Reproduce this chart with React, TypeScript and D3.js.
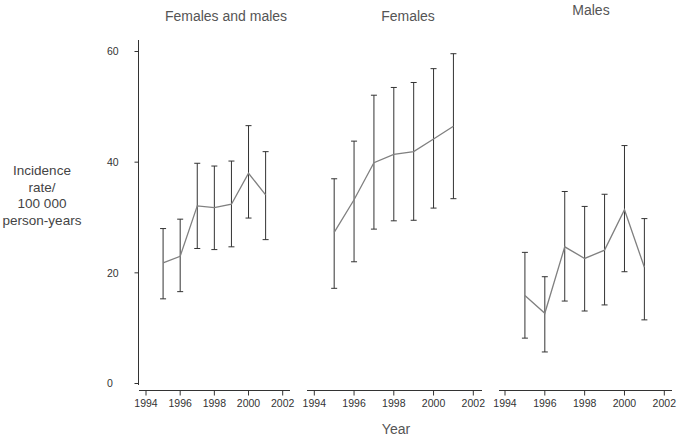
import React from "react";
import * as d3 from "d3";

const years = [1995, 1996, 1997, 1998, 1999, 2000, 2001];
const xTicks = [1994, 1996, 1998, 2000, 2002];
const yTicks = [0, 20, 40, 60];
const panelTitles = ["Females and males", "Females", "Males"];

const bothRate = [21.8, 23.0, 32.1, 31.8, 32.4, 38.0, 34.1];
const bothLow = [15.3, 16.6, 24.4, 24.2, 24.7, 29.9, 26.0];
const bothHigh = [28.0, 29.7, 39.8, 39.3, 40.2, 46.6, 41.9];

const femRate = [27.3, 33.2, 39.9, 41.4, 41.9, 44.2, 46.5];
const femLow = [17.2, 22.0, 27.9, 29.4, 29.5, 31.7, 33.4];
const femHigh = [37.0, 43.8, 52.1, 53.5, 54.4, 56.9, 59.6];

const maleRate = [15.9, 12.7, 24.7, 22.6, 24.1, 31.4, 21.0];
const maleLow = [8.2, 5.7, 14.9, 13.1, 14.2, 20.2, 11.5];
const maleHigh = [23.7, 19.3, 34.7, 32.0, 34.2, 43.0, 29.8];

const series = [
  { rate: bothRate, low: bothLow, high: bothHigh },
  { rate: femRate, low: femLow, high: femHigh },
  { rate: maleRate, low: maleLow, high: maleHigh },
];

const FONT = "'Liberation Sans', Arial, sans-serif";

const panels = [
  { range: [146, 282.7], axis: [139, 290], titleX: 226, titleY: 21 },
  { range: [314.3, 473.3], axis: [307, 482], titleX: 408, titleY: 21 },
  { range: [505, 664.3], axis: [499, 672], titleX: 591, titleY: 15 },
];

export default function App() {
  const y = d3.scaleLinear().domain([0, 60]).range([383.5, 51.5]);
  const axisY = 390.5;

  return (
    <svg
      width={681}
      height={441}
      style={{ position: "absolute", left: 0, top: 0, background: "#fff" }}
      fontFamily={FONT}
    >
      {/* y axis */}
      <line x1={138.5} x2={138.5} y1={40} y2={385} stroke="#333" strokeWidth={1} />
      {yTicks.map((t) => (
        <g key={t}>
          <line x1={134.5} x2={138.5} y1={y(t)} y2={y(t)} stroke="#333" />
          <text x={107} y={y(t) + 3.7} fontSize={10.5} fill="#333">
            {t}
          </text>
        </g>
      ))}
      <text fontSize={13.5} fill="#444" textAnchor="middle">
        {["Incidence", "rate/", "100 000", "person-years"].map((s, i) => (
          <tspan key={i} x={42} y={175 + i * 16.5}>
            {s}
          </tspan>
        ))}
      </text>

      {panels.map((p, pi) => {
        const x = d3.scaleLinear().domain([1994, 2002]).range(p.range as [number, number]);
        const s = series[pi];
        const line = d3
          .line<number>()
          .x((_, i) => x(years[i]))
          .y((d) => y(d));
        return (
          <g key={pi}>
            <text x={p.titleX} y={p.titleY} fontSize={14} fill="#555" textAnchor="middle">
              {panelTitles[pi]}
            </text>
            <line x1={p.axis[0]} x2={p.axis[1]} y1={axisY} y2={axisY} stroke="#333" />
            {xTicks.map((t) => (
              <g key={t}>
                <line x1={x(t)} x2={x(t)} y1={axisY} y2={axisY + 5} stroke="#333" />
                <text x={x(t)} y={axisY + 16.8} fontSize={10.5} fill="#333" textAnchor="middle">
                  {t}
                </text>
              </g>
            ))}
            {years.map((yr, i) => (
              <g key={yr} stroke="#333" strokeWidth={1}>
                <line x1={x(yr)} x2={x(yr)} y1={y(s.low[i])} y2={y(s.high[i])} />
                <line x1={x(yr) - 3} x2={x(yr) + 3} y1={y(s.low[i])} y2={y(s.low[i])} />
                <line x1={x(yr) - 3} x2={x(yr) + 3} y1={y(s.high[i])} y2={y(s.high[i])} />
              </g>
            ))}
            <path d={line(s.rate) || ""} fill="none" stroke="#808080" strokeWidth={1.3} />
          </g>
        );
      })}

      <text x={396} y={434} fontSize={14} fill="#555" textAnchor="middle">
        Year
      </text>
    </svg>
  );
}
